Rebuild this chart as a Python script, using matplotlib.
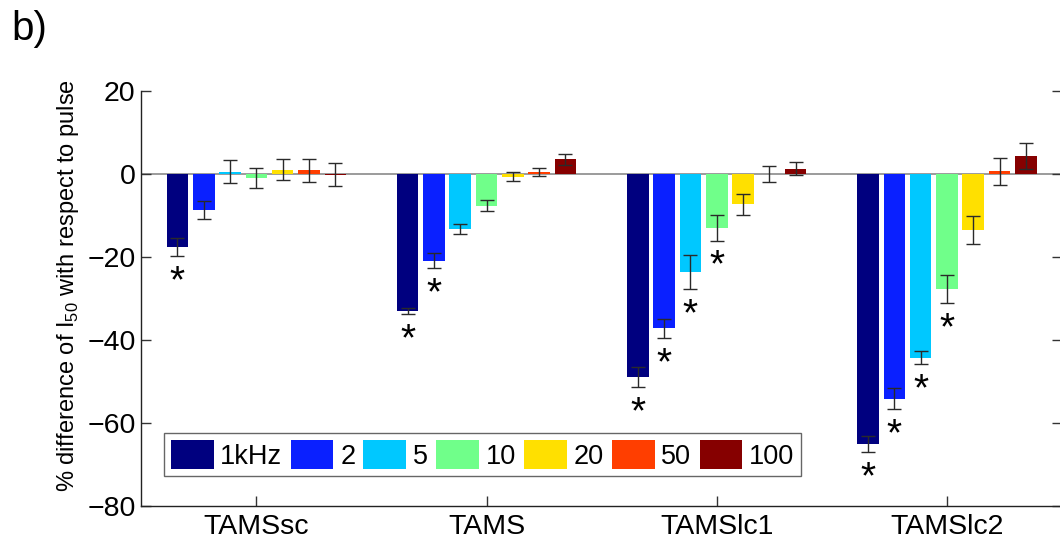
import matplotlib
matplotlib.use("Agg")
import matplotlib.pyplot as plt
import numpy as np

plt.rcParams['font.family'] = ['Liberation Sans', 'DejaVu Sans']
plt.rcParams['mathtext.fontset'] = 'custom'
plt.rcParams['mathtext.rm'] = 'Liberation Sans'

# stimulation conditions and burst frequencies
conditions = ['TAMSsc', 'TAMS', 'TAMSlc1', 'TAMSlc2']
freq_labels = ['1kHz', '2', '5', '10', '20', '50', '100']

# mean % difference of I50 (rows: conditions, cols: frequencies)
mean_tamssc = [-17.7, -8.8, 0.5, -1.0, 1.0, 0.8, -0.2]
mean_tams = [-33.1, -21.0, -13.4, -7.7, -0.7, 0.4, 3.5]
mean_tamslc1 = [-49.1, -37.3, -23.7, -13.0, -7.4, -0.1, 1.2]
mean_tamslc2 = [-65.1, -54.2, -44.3, -27.8, -13.6, 0.6, 4.3]

# standard errors
err_tamssc = [2.1, 2.2, 2.8, 2.4, 2.6, 2.8, 2.8]
err_tams = [0.7, 1.8, 1.2, 1.4, 1.0, 1.0, 1.3]
err_tamslc1 = [2.4, 2.4, 4.1, 3.1, 2.6, 2.0, 1.6]
err_tamslc2 = [2.0, 2.6, 1.6, 3.4, 3.4, 3.2, 3.1]

# significant differences (marked with *)
sig_tamssc = [1, 0, 0, 0, 0, 0, 0]
sig_tams = [1, 1, 0, 0, 0, 0, 0]
sig_tamslc1 = [1, 1, 1, 1, 0, 0, 0]
sig_tamslc2 = [1, 1, 1, 1, 0, 0, 0]

means = np.array([mean_tamssc, mean_tams, mean_tamslc1, mean_tamslc2])
errs = np.array([err_tamssc, err_tams, err_tamslc1, err_tamslc2])
sigs = np.array([sig_tamssc, sig_tams, sig_tamslc1, sig_tamslc2])

n_groups, n_bars = means.shape
# jet-like palette, one colour per frequency
colors = ['#00007f', '#0a20ff', '#00c8ff', '#70ff8a', '#ffe000', '#ff3e00', '#860000']

fig = plt.figure(figsize=(10.6, 5.41), dpi=100)
ax = fig.add_axes([0.1333, 0.0653, 0.8686, 0.767])

x = np.arange(1, n_groups + 1)
group_w = 0.8
step = group_w / n_bars
bar_w = step * 0.82

ax.axhline(0, color='#8a8a8a', lw=1.2, zorder=1)

for k in range(n_bars):
    xs = x + (k - (n_bars - 1) / 2) * step
    ax.bar(xs, means[:, k], width=bar_w, color=colors[k], edgecolor='none',
           label=freq_labels[k], zorder=2)
    ax.errorbar(xs, means[:, k], yerr=errs[:, k], fmt='none', ecolor='#2a2a2a',
                elinewidth=1, capsize=4.7, capthick=1, zorder=3)
    for g in range(n_groups):
        if sigs[g, k]:
            ax.annotate('*', (xs[g], means[g, k] - errs[g, k]), xytext=(0, -26),
                        textcoords='offset points', ha='center', va='baseline',
                        fontsize=28, color='black')

ax.set_xlim(0.5, 4.5)
ax.set_ylim(-80, 20)
ax.set_xticks(x)
ax.set_xticklabels(conditions)
ax.set_yticks(np.arange(-80, 21, 20))
ax.yaxis.set_major_formatter(matplotlib.ticker.FuncFormatter(
    lambda v, p: f'{int(v)}'.replace('-', '\u2212')))

ax.tick_params(axis='both', direction='in', length=7, width=1, labelsize=20.5,
               top=False, right=True, color='#333333')
ax.tick_params(axis='x', pad=6)
ax.tick_params(axis='y', pad=4)
ax.spines['top'].set_visible(False)
for s in ax.spines.values():
    s.set_linewidth(1)
    s.set_color('#222222')

ax.set_ylabel('% difference of I$_{\\rm 50}$ with respect to pulse', fontsize=17)
ax.yaxis.set_label_coords(-0.066, 0.53)

leg = ax.legend(ncol=n_bars, loc='upper left', bbox_to_anchor=(0.0247, 0.175),
                borderaxespad=0, fontsize=19.5, handlelength=1.58, handleheight=1.3,
                handletextpad=0.25, columnspacing=0.3, borderpad=0.25,
                fancybox=False, framealpha=1)
leg.get_frame().set_edgecolor('#666666')
leg.get_frame().set_linewidth(1)

fig.text(0.011, 0.982, 'b)', fontsize=29, ha='left', va='top')

fig.savefig('out.png', dpi=100)
